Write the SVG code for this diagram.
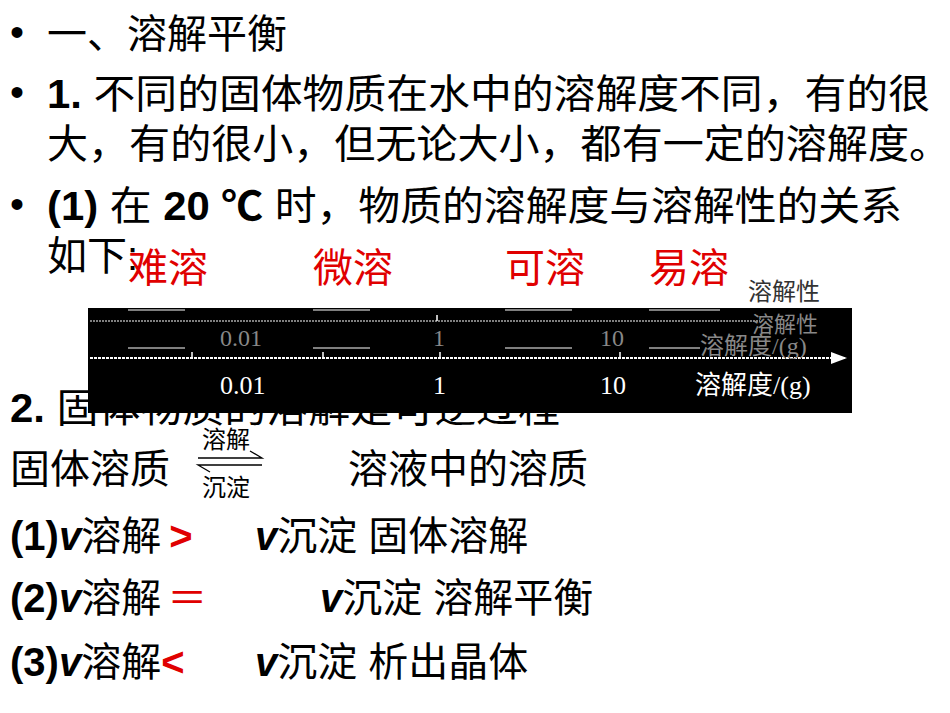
<svg xmlns="http://www.w3.org/2000/svg" width="950" height="713" viewBox="0 0 950 713">
<style>
.t{font-family:"Liberation Sans","Noto Sans CJK SC",sans-serif;font-size:40px;fill:#000}
.b{font-weight:bold}
.r{fill:#e00000}
.s{font-family:"Liberation Serif","Noto Sans CJK SC",serif}
.v{font-style:italic;font-weight:bold}
</style>
<defs><marker id="ah" markerWidth="8" markerHeight="8" refX="7" refY="4" orient="auto"><path d="M0,1 L8,4 L0,7 Z" fill="#fff"/></marker></defs>
<rect width="950" height="713" fill="#fff"/>
<g id="text">
<text class="t" x="10" y="46">•</text><text class="t" x="47" y="48">一、溶解平衡</text>
<text class="t" x="10" y="106">•</text><text class="t" x="47" y="108" textLength="883" lengthAdjust="spacingAndGlyphs"><tspan class="b">1.</tspan> 不同的固体物质在水中的溶解度不同，有的很</text>
<text class="t" x="47" y="158" textLength="903" lengthAdjust="spacingAndGlyphs">大，有的很小，但无论大小，都有一定的溶解度。</text>
<text class="t" x="10" y="218">•</text><text class="t" x="47" y="220" textLength="855" lengthAdjust="spacingAndGlyphs"><tspan class="b">(1)</tspan> 在 <tspan class="b">20 ℃</tspan> 时，物质的溶解度与溶解性的关系</text>
<text class="t" x="47" y="270">如下:</text>
<text class="t r" x="128" y="282" font-size="35">难溶</text>
<text class="t r" x="313" y="282" font-size="35">微溶</text>
<text class="t r" x="505" y="282" font-size="35">可溶</text>
<text class="t r" x="649" y="282" font-size="35">易溶</text>
<text class="s" x="748" y="300" font-size="24" fill="#333">溶解性</text>
<text class="t" x="10" y="422" textLength="550" lengthAdjust="spacingAndGlyphs"><tspan class="b">2.</tspan> 固体物质的溶解是可逆过程</text>
</g>
<g id="scale">
<rect x="88" y="308" width="764" height="105" fill="#000"/>
<g stroke="#aaa" stroke-width="1.5">
<line x1="90" y1="321" x2="760" y2="321" stroke-dasharray="2 1"/>
<line x1="128" y1="348" x2="185" y2="348"/><line x1="313" y1="348" x2="370" y2="348"/><line x1="505" y1="348" x2="572" y2="348"/><line x1="649" y1="348" x2="700" y2="348"/>
<line x1="128" y1="310" x2="185" y2="310"/><line x1="313" y1="310" x2="370" y2="310"/><line x1="505" y1="310" x2="572" y2="310"/><line x1="649" y1="310" x2="720" y2="310"/>
</g>
<line x1="90" y1="358" x2="845" y2="358" stroke="#fff" stroke-width="2" stroke-dasharray="3 1" marker-end="url(#ah)"/>
<g stroke="#fff" stroke-width="1.5"><line x1="192" y1="352" x2="192" y2="358"/><line x1="323" y1="352" x2="323" y2="358"/><line x1="440" y1="352" x2="440" y2="358"/><line x1="437" y1="315" x2="437" y2="321"/><line x1="620" y1="352" x2="620" y2="358"/></g>
<g class="s" font-size="24" fill="#888"><text x="220" y="346">0.01</text><text x="433" y="346">1</text><text x="600" y="346">10</text><text x="700" y="354">溶解度/(g)</text><text x="752" y="332" font-size="22">溶解性</text></g>
<g class="s" font-size="26" fill="#fff"><text x="220" y="394">0.01</text><text x="433" y="394">1</text><text x="600" y="394">10</text><text x="695" y="394">溶解度/(g)</text></g>
</g>
<g id="equilibrium">
<text class="t" x="10" y="483">固体溶质</text>
<text class="s" x="202" y="448" font-size="24">溶解</text>
<path d="M198,458 H262 L250,451" fill="none" stroke="#000" stroke-width="1.3"/>
<path d="M262,465 H198 L210,472" fill="none" stroke="#000" stroke-width="1.3"/>
<text class="s" x="202" y="496" font-size="24">沉淀</text>
<text class="t" x="348" y="483">溶液中的溶质</text>
<text class="t" x="10" y="550"><tspan class="b">(1)</tspan><tspan class="v">v</tspan>溶解<tspan class="r b" dx="8">&gt;</tspan></text>
<text class="t" x="255" y="550"><tspan class="v">v</tspan>沉淀  固体溶解</text>
<text class="t" x="10" y="612"><tspan class="b">(2)</tspan><tspan class="v">v</tspan>溶解<tspan class="r" dx="6">＝</tspan></text>
<text class="t" x="320" y="612"><tspan class="v">v</tspan>沉淀  溶解平衡</text>
<text class="t" x="10" y="676"><tspan class="b">(3)</tspan><tspan class="v">v</tspan>溶解<tspan class="r b">&lt;</tspan></text>
<text class="t" x="255" y="676"><tspan class="v">v</tspan>沉淀  析出晶体</text>
</g>
</svg>
